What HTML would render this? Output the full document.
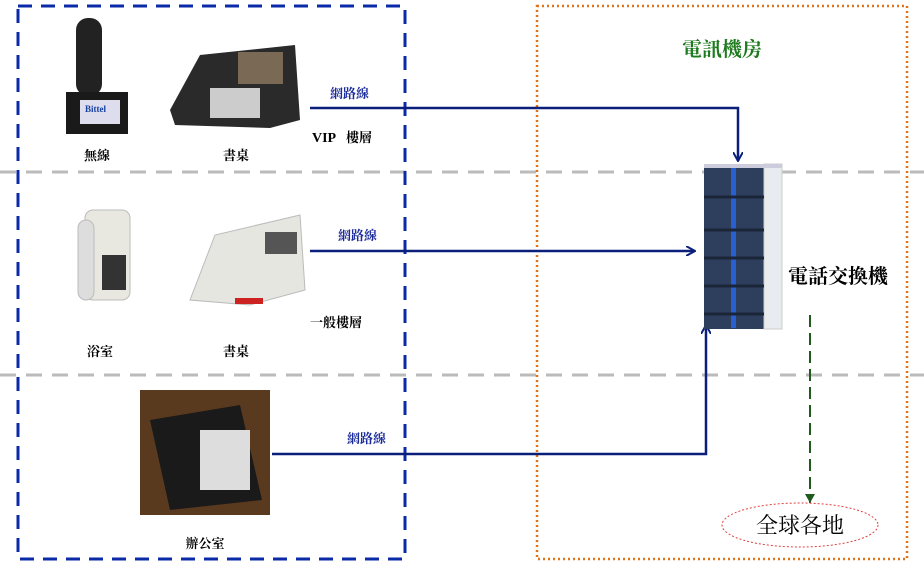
<!DOCTYPE html>
<html><head><meta charset="utf-8"><style>
html,body{margin:0;padding:0;background:#fff;width:924px;height:574px;overflow:hidden}
svg text{font-family:"Liberation Serif","Noto Serif CJK SC","Noto Sans CJK TC",serif}
</style></head><body>
<svg width="924" height="574" viewBox="0 0 924 574" xmlns="http://www.w3.org/2000/svg">
<defs>
<marker id="a" markerWidth="10" markerHeight="10" refX="9" refY="5" orient="auto" markerUnits="userSpaceOnUse"><path d="M0,0 L9,5 L0,10" fill="none" stroke="#0a1f7a" stroke-width="2"/></marker>
<marker id="g" markerWidth="10" markerHeight="10" refX="5" refY="9" orient="0" markerUnits="userSpaceOnUse"><path d="M0,0 L5,9 L10,0Z" fill="#1f5a1f"/></marker>
</defs>
<!-- gray separators -->
<line x1="0" y1="172" x2="924" y2="172" stroke="#bbb" stroke-width="3" stroke-dasharray="16,10"/>
<line x1="0" y1="375" x2="924" y2="375" stroke="#bbb" stroke-width="3" stroke-dasharray="16,10"/>
<!-- boxes -->
<rect x="18" y="6" width="387" height="553" fill="none" stroke="#0b2aa8" stroke-width="3" stroke-dasharray="14,9"/>
<rect x="537" y="6" width="370" height="553" fill="none" stroke="#e0731a" stroke-width="2.5" stroke-dasharray="2,3"/>
<text x="722" y="56" font-size="20" fill="#1e7a1e" font-weight="bold" text-anchor="middle">電訊機房</text>
<!-- phones row 1 -->
<rect x="76" y="18" width="26" height="78" rx="12" fill="#222"/>
<rect x="66" y="92" width="62" height="42" fill="#1a1a1a"/>
<rect x="80" y="100" width="40" height="24" fill="#dde"/>
<text x="85" y="112" font-size="9" fill="#1540a0" font-weight="bold" font-family="Liberation Sans">Bittel</text>
<path d="M170,110 L200,55 L295,45 L300,120 L270,128 L175,125Z" fill="#2a2a2a"/>
<rect x="238" y="52" width="45" height="32" fill="#7a6a55"/>
<rect x="210" y="88" width="50" height="30" fill="#ccc"/>
<text x="97" y="160" font-size="13" text-anchor="middle" font-weight="bold">無線</text>
<text x="236" y="160" font-size="13" text-anchor="middle" font-weight="bold">書桌</text>
<text x="312" y="142" font-size="14" font-weight="bold" font-family="Liberation Sans">VIP</text>
<text x="346" y="142" font-size="13" font-weight="bold">樓層</text>
<!-- row 2 -->
<rect x="85" y="210" width="45" height="90" rx="8" fill="#e8e8e0" stroke="#bbb"/>
<rect x="78" y="220" width="16" height="80" rx="8" fill="#ddd" stroke="#bbb"/>
<rect x="102" y="255" width="24" height="35" fill="#333"/>
<path d="M190,300 L215,235 L300,215 L305,290 L250,305Z" fill="#e6e6e0" stroke="#bbb"/>
<rect x="265" y="232" width="32" height="22" fill="#555"/>
<rect x="235" y="298" width="28" height="6" fill="#c22"/>
<text x="100" y="356" font-size="13" text-anchor="middle" font-weight="bold">浴室</text>
<text x="236" y="356" font-size="13" text-anchor="middle" font-weight="bold">書桌</text>
<text x="310" y="327" font-size="13" font-weight="bold">一般樓層</text>
<!-- row 3 -->
<rect x="140" y="390" width="130" height="125" fill="#5a3a1e"/>
<path d="M150,420 L240,405 L262,500 L170,510Z" fill="#1a1a1a"/>
<rect x="200" y="430" width="50" height="60" fill="#ddd"/>
<text x="205" y="548" font-size="13" text-anchor="middle" font-weight="bold">辦公室</text>
<!-- connector lines -->
<text x="330" y="98" font-size="13" fill="#1a2a9a" font-weight="bold">網路線</text>
<text x="338" y="240" font-size="13" fill="#1a2a9a" font-weight="bold">網路線</text>
<text x="347" y="443" font-size="13" fill="#1a2a9a" font-weight="bold">網路線</text>
<polyline points="310,108 738,108 738,161" fill="none" stroke="#0a1f7a" stroke-width="2.5" marker-end="url(#a)"/>
<line x1="310" y1="251" x2="695" y2="251" stroke="#0a1f7a" stroke-width="2.5" marker-end="url(#a)"/>
<polyline points="272,454 706,454 706,325" fill="none" stroke="#0a1f7a" stroke-width="2.5" marker-end="url(#a)"/>
<!-- server -->
<rect x="704" y="164" width="60" height="165" fill="#2e3f5e"/>
<rect x="764" y="164" width="18" height="165" fill="#e8ecf0" stroke="#ccc"/>
<rect x="731" y="165" width="5" height="163" fill="#2a5fd0"/>
<g stroke="#1b2538" stroke-width="3"><line x1="704" y1="197" x2="764" y2="197"/><line x1="704" y1="230" x2="764" y2="230"/><line x1="704" y1="258" x2="764" y2="258"/><line x1="704" y1="286" x2="764" y2="286"/><line x1="704" y1="314" x2="764" y2="314"/></g>
<rect x="704" y="164" width="78" height="4" fill="#ccd"/>
<text x="788" y="283" font-size="20" font-weight="bold">電話交換機</text>
<!-- green dashed -->
<line x1="810" y1="315" x2="810" y2="503" stroke="#1f5a1f" stroke-width="2" stroke-dasharray="12,6" marker-end="url(#g)"/>
<ellipse cx="800" cy="525" rx="78" ry="22" fill="none" stroke="#e04040" stroke-width="1" stroke-dasharray="2,2"/>
<text x="800" y="533" font-size="22" text-anchor="middle">全球各地</text>
</svg>
</body></html>
